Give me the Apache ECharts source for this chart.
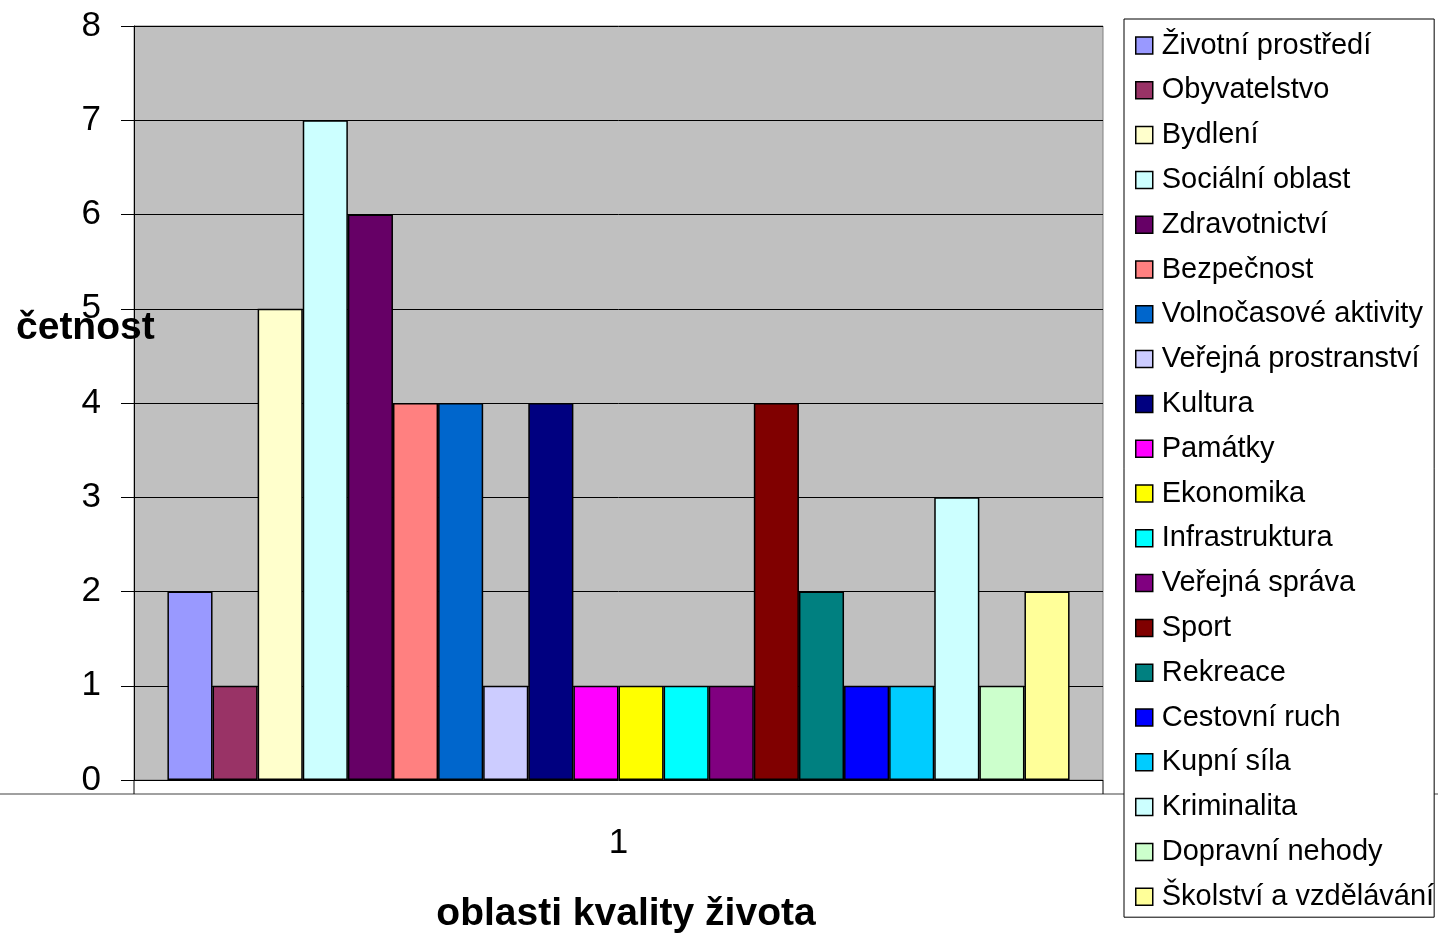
<!DOCTYPE html>
<html><head><meta charset="utf-8">
<script src="https://cdn.jsdelivr.net/npm/echarts@6/dist/echarts.min.js"></script>
<style>html,body{margin:0;padding:0;background:#fff}#c{width:1438px;height:934px}</style>
</head><body><div id="c"></div>
<script>
const categories = ['1'];
const seriesNames = ['Životní prostředí','Obyvatelstvo','Bydlení','Sociální oblast','Zdravotnictví','Bezpečnost','Volnočasové aktivity','Veřejná prostranství','Kultura','Památky','Ekonomika','Infrastruktura','Veřejná správa','Sport','Rekreace','Cestovní ruch','Kupní síla','Kriminalita','Dopravní nehody','Školství a vzdělávání'];
const seriesValues = [2,1,5,7,6,4,4,1,4,1,1,1,1,4,2,1,1,3,1,2];
const seriesColors = ['#9999FF','#993366','#FFFFCC','#CCFFFF','#660066','#FF8080','#0066CC','#CCCCFF','#000080','#FF00FF','#FFFF00','#00FFFF','#800080','#800000','#008080','#0000FF','#00CCFF','#CCFFFF','#CCFFCC','#FFFF99'];
const yTicks = [0,1,2,3,4,5,6,7,8];
const yTitle = 'četnost';
const xTitle = 'oblasti kvality života';

const FONT = '"Liberation Sans", Arial, sans-serif';
const chart = echarts.init(document.getElementById('c'), null, {renderer:'canvas'});
const gL = 134, gT = 26, gW = 969, gH = 754;
chart.setOption({
  animation: false,
  backgroundColor: '#fff',
  textStyle: {fontFamily: FONT},
  title: [
    {text: yTitle, left: 11, top: 304, z: 20, textStyle: {fontFamily: FONT, fontSize: 39, fontWeight: 'bold', color: '#000'}},
    {text: xTitle, left: 621, top: 890, textAlign: 'center', textStyle: {fontFamily: FONT, fontSize: 39, fontWeight: 'bold', color: '#000'}}
  ],
  grid: {left: gL, top: gT, width: gW, height: gH, show: true, backgroundColor: '#C0C0C0', borderColor: '#808080', borderWidth: 1},
  legend: {
    z: 20,
    orient: 'vertical', left: 1124, top: 19,
    data: seriesNames,
    icon: 'rect',
    itemWidth: 17, itemHeight: 17, itemGap: 15.8,
    padding: [12, 0, 6, 11],
    borderColor: '#000', borderWidth: 1, backgroundColor: '#fff',
    textStyle: {fontFamily: FONT, fontSize: 29, color: '#000', lineHeight: 29, padding: [0,0,0,4]},
    itemStyle: {borderColor: '#000', borderWidth: 1.5},
    selectedMode: false
  },
  xAxis: {
    type: 'category', data: categories,
    axisLine: {show: false}, axisTick: {show: false},
    axisLabel: {margin: 46, fontSize: 35, color: '#000', fontFamily: FONT},
    splitLine: {show: false}
  },
  yAxis: {
    type: 'value', min: yTicks[0], max: yTicks[yTicks.length-1], interval: 1,
    axisLine: {show: true, lineStyle: {color: '#000', width: 1}},
    axisTick: {show: true, length: 13, lineStyle: {color: '#000'}},
    axisLabel: {margin: 33, fontSize: 35, color: '#000', fontFamily: FONT, padding: [4,0,0,0]},
    splitLine: {show: true, lineStyle: {color: '#000', width: 1}}
  },
  series: seriesNames.map((n, i) => ({
    name: n, type: 'bar', data: [seriesValues[i]],
    barGap: '0%', barCategoryGap: '6.9%',
    itemStyle: {color: seriesColors[i], borderColor: '#000', borderWidth: 1.5}
  })),
  graphic: [
    {type: 'line', z: 1, shape: {x1: 0, y1: 794, x2: 1438, y2: 794}, style: {stroke: '#808080', lineWidth: 1.5}},
    {type: 'line', z: 1, shape: {x1: gL, y1: gT + gH, x2: gL, y2: 794}, style: {stroke: '#000', lineWidth: 1}},
    {type: 'line', z: 1, shape: {x1: gL + gW, y1: gT + gH, x2: gL + gW, y2: 794}, style: {stroke: '#000', lineWidth: 1}}
  ]
});
</script></body></html>
